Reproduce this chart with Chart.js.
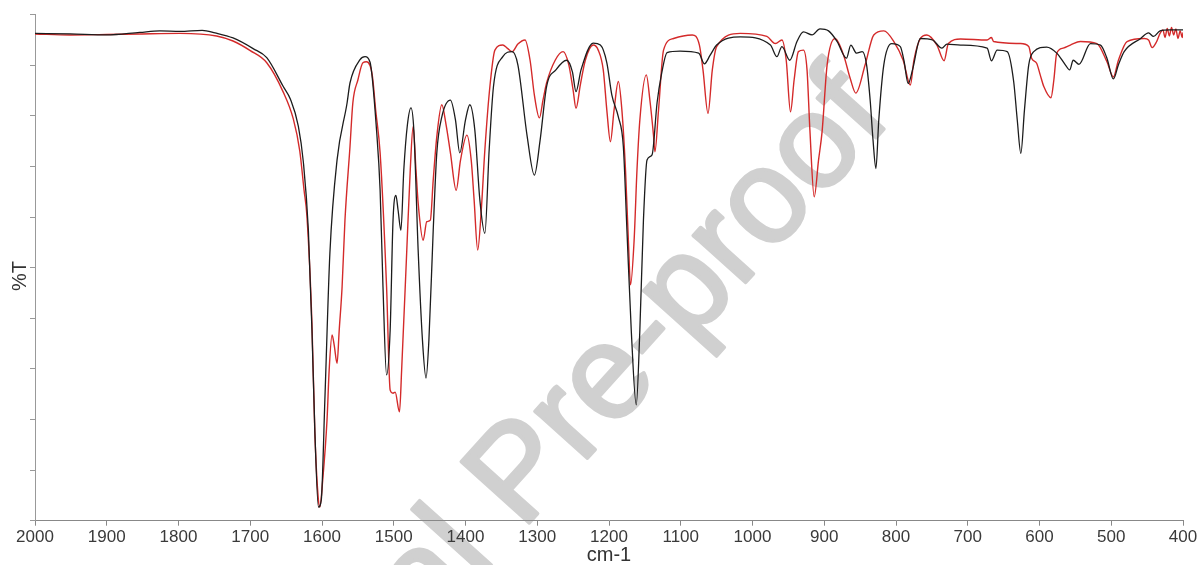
<!DOCTYPE html>
<html>
<head>
<meta charset="utf-8">
<script src="https://cdn.jsdelivr.net/npm/chart.js@4.4.1/dist/chart.umd.min.js"></script>
<style>
html,body{margin:0;padding:0;background:#fff;}
#c{display:block;}
</style>
</head>
<body>
<canvas id="c" width="1201" height="565"></canvas>
<script>
// ---- data (wavenumber cm-1, %T) ----
const blackX = [2000,1951,1900,1854,1826,1798,1767,1749,1724,1696,1677,1654,1644,1633,1626,1619,1614,1610,1605,1601,1596,1589,1579,1565,1561,1547,1540,1533,1524,1519,1515,1510,1505,1501,1497,1494,1490,1486,1481,1476,1472,1466,1460,1455,1451,1445,1440,1433,1421,1414,1408,1400,1394,1387,1380,1373,1367,1361,1348,1335,1327,1314,1304,1296,1287,1274,1259,1251,1246,1239,1222,1212,1203,1196,1187,1180,1175,1169,1162,1157,1152,1147,1140,1133,1127,1119,1101,1075,1067,1059,1050,1017,975,966,959,948,938,929,917,906,894,882,869,863,855,847,841,836,832,828,824,817,806,794,789,783,777,766,749,736,729,710,673,667,659,645,636,631,626,621,615,608,590,576,564,558,553,545,529,515,506,497,490,482,459,448,441,432,418,400];
const blackT = [96.3,96.2,96.0,96.5,96.8,96.7,96.9,96.4,95.4,93.3,91.5,85.8,83.3,78.0,70.9,57.4,37.7,17.9,2.7,4.1,23.9,52.9,71.3,82.6,86.5,91.1,91.7,90.6,77.2,65.3,46.2,28.8,37.7,59.4,64.3,61.4,57.4,69.3,78.2,81.6,77.2,53.5,35.7,28.2,35.7,57.4,72.7,79.8,83.1,79.2,72.7,79.2,82.2,77.2,63.4,56.8,73.3,85.8,91.7,92.7,90.1,75.9,68.3,75.2,85.8,89.1,91.0,88.7,84.8,89.1,94.4,94.0,90.5,84.1,79.8,73.9,57.4,37.7,22.9,37.7,59.4,71.3,72.3,82.6,88.1,92.5,92.8,92.4,90.3,92.0,94.0,95.6,94.0,91.7,93.7,91.0,94.7,96.6,96.0,97.2,96.8,94.7,91.4,94.0,92.4,92.7,90.1,83.1,75.2,69.6,79.2,90.1,94.3,93.7,91.0,86.4,89.1,95.3,95.0,93.4,94.2,94.0,93.4,90.9,93.0,92.7,86.8,79.2,72.6,81.1,90.1,92.7,93.6,92.4,90.1,89.1,91.0,90.2,94.3,94.0,91.4,87.3,90.1,92.7,95.3,96.4,95.7,96.8,97.0,97.0];

const redX = [2000,1951,1900,1854,1798,1747,1724,1700,1677,1654,1640,1631,1625,1621,1614,1610,1605,1603,1599,1593,1590,1586,1583,1579,1576,1572,1568,1561,1557,1550,1543,1538,1530,1525,1519,1510,1505,1501,1498,1492,1489,1482,1477,1473,1469,1466,1459,1454,1449,1445,1440,1433,1427,1421,1413,1407,1398,1392,1388,1383,1378,1373,1366,1359,1348,1342,1335,1327,1317,1310,1304,1297,1292,1287,1275,1264,1256,1250,1246,1240,1233,1222,1215,1208,1203,1198,1193,1187,1182,1177,1173,1170,1165,1161,1157,1148,1143,1138,1136,1131,1124,1110,1084,1074,1069,1062,1056,1050,1017,980,968,959,953,947,942,936,929,924,920,914,908,903,896,885,873,864,856,843,831,817,803,790,780,775,766,757,743,733,727,710,673,667,664,627,615,611,604,599,594,584,580,576,567,557,543,520,506,497,490,478,454,448,443,437,432,428,425,422,419,416,413,410,407,404,401,400];
const redT = [96.2,96.0,96.1,96.2,96.3,95.8,94.8,92.9,90.5,84.7,79.4,73.1,65.3,60.2,38.9,17.5,4.1,2.7,8.0,19.9,29.8,36.7,34.7,31.1,37.7,46.2,59.4,73.9,82.6,87.1,90.5,90.7,88.1,80.9,72.7,46.2,25.8,25.2,25.4,21.5,29.8,52.9,69.3,77.9,69.3,62.8,55.4,59.1,59.4,67.3,75.9,82.2,78.2,72.7,65.3,71.2,76.2,71.2,63.4,53.5,61.4,73.3,85.8,93.0,94.0,93.4,92.7,94.2,95.0,91.0,84.1,79.6,83.1,86.5,91.0,92.7,90.1,85.1,81.5,86.1,91.0,94.0,93.0,89.1,81.1,74.9,81.1,86.8,81.1,69.3,55.4,46.6,55.4,69.3,79.2,88.1,83.1,76.2,72.9,81.1,93.0,95.3,96.0,94.0,89.1,80.5,89.1,93.7,96.3,95.7,94.3,95.0,91.0,80.8,87.1,92.7,93.0,89.1,77.2,64.0,71.2,76.9,90.1,95.3,92.0,87.5,84.5,90.1,96.0,96.8,94.7,91.0,86.1,91.0,95.3,96.0,94.0,90.9,94.3,95.2,95.0,95.5,94.7,94.3,93.7,91.4,90.4,88.1,85.8,83.6,87.1,92.4,93.4,94.0,94.7,94.3,90.7,87.7,91.0,94.7,95.3,95.0,93.5,94.6,96.3,97.0,95.5,97.3,95.8,97.5,96.0,97.2,95.3,96.8,95.5,96.5];

const xTicksMin = 400, xTicksMax = 2000, xStep = 100;
const yMin = 0, yMax = 100, yStep = 10;
const xTitle = 'cm-1';
const yTitle = '%T';
const watermark = 'Journal Pre-proof';

const toPts = (xs, ys) => xs.map((x, i) => ({x: x, y: ys[i]}));

const textPlugin = {
  id: 'texts',
  beforeDraw(chart) {
    const ctx = chart.ctx;
    ctx.save();
    ctx.font = '133px "Liberation Sans", Arial, sans-serif';
    ctx.fillStyle = '#d0d0d0';
    ctx.strokeStyle = '#d0d0d0';
    ctx.lineWidth = 3.5;
    ctx.lineJoin = 'round';
    const ang = -48 * Math.PI / 180;
    const pre = ctx.measureText('Journal ').width;
    const ox = 522 - pre * Math.cos(ang);
    const oy = 531 - pre * Math.sin(ang);
    ctx.translate(ox, oy);
    ctx.rotate(ang);
    ctx.textBaseline = 'alphabetic';
    ctx.textAlign = 'left';
    ctx.fillText(watermark, 0, 0);
    ctx.strokeText(watermark, 0, 0);
    ctx.restore();
  },
  afterDraw(chart) {
    const ctx = chart.ctx;
    const xs = chart.scales.x;
    ctx.save();
    ctx.fillStyle = '#333';
    ctx.font = '20px "Liberation Sans", Arial, sans-serif';
    ctx.textAlign = 'center';
    ctx.textBaseline = 'middle';
    ctx.fillText(xTitle, (xs.left + xs.right) / 2, 555);
    ctx.translate(20, 276);
    ctx.rotate(-Math.PI / 2);
    ctx.fillText(yTitle, 0, 0);
    ctx.restore();
  }
};

new Chart(document.getElementById('c'), {
  type: 'line',
  data: {
    datasets: [
      {label: 'black', data: toPts(blackX, blackT), borderColor: '#1c1c1c', borderWidth: 1.3, pointRadius: 0, cubicInterpolationMode: 'monotone', fill: false},
      {label: 'red', data: toPts(redX, redT), borderColor: '#d42a2a', borderWidth: 1.4, pointRadius: 0, cubicInterpolationMode: 'monotone', fill: false}
    ]
  },
  options: {
    responsive: false,
    animation: false,
    devicePixelRatio: 1,
    layout: {padding: {left: 0, right: 18, top: 14.7, bottom: 0}},
    plugins: {legend: {display: false}, tooltip: {enabled: false}},
    scales: {
      x: {
        type: 'linear', reverse: true, min: xTicksMin, max: xTicksMax,
        ticks: {stepSize: xStep, color: '#3a3a3a', font: {size: 17, family: '"Liberation Sans", Arial, sans-serif'}, padding: 1, maxRotation: 0, autoSkip: false, callback: v => String(v)},
        grid: {display: true, drawOnChartArea: false, drawTicks: true, tickLength: 5, color: '#888'},
        border: {display: true, color: '#888', width: 1},
        afterFit(s) { s.height = 565 - 520.7; }
      },
      y: {
        min: yMin, max: yMax,
        ticks: {stepSize: yStep, display: false},
        grid: {display: true, drawOnChartArea: false, drawTicks: true, tickLength: 5, color: '#999'},
        border: {display: true, color: '#999', width: 1},
        afterFit(s) { s.width = 35; }
      }
    }
  },
  plugins: [textPlugin]
});
</script>
</body>
</html>
